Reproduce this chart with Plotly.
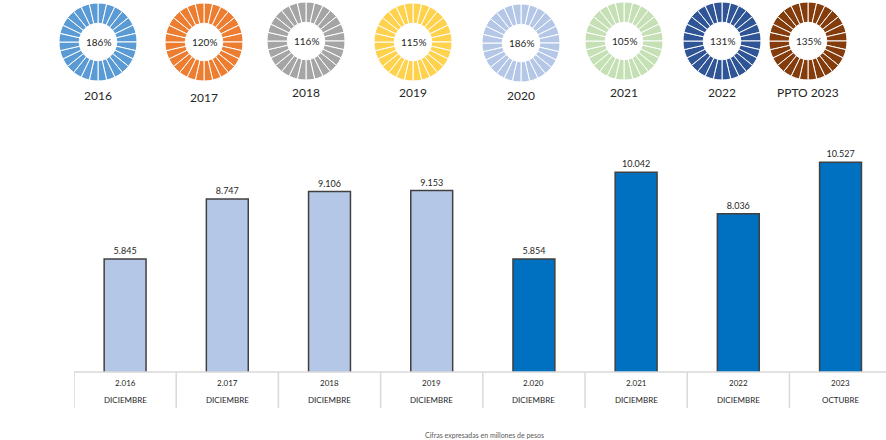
import plotly.graph_objects as go

# ---- data ----
donut_labels = ["2016", "2017", "2018", "2019", "2020", "2021", "2022", "PPTO 2023"]
donut_pct = ["186%", "120%", "116%", "115%", "186%", "105%", "131%", "135%"]
donut_colors = ["#5B9BD5", "#ED7D31", "#A5A5A5", "#FFD24D", "#B4C7E7", "#C5E0B4", "#2F5597", "#843C0C"]
ring_segments = [1] * 28  # decorative equal ring segments

bar_years = ["2.016", "2.017", "2018", "2019", "2.020", "2.021", "2022", "2023"]
bar_months = ["DICIEMBRE", "DICIEMBRE", "DICIEMBRE", "DICIEMBRE", "DICIEMBRE", "DICIEMBRE", "DICIEMBRE", "OCTUBRE"]
bar_values = [5845, 8747, 9106, 9153, 5854, 10042, 8036, 10527]
bar_colors = ["#B4C7E7"] * 4 + ["#0070C0"] * 4

W, H = 886, 440
FONT = "Lato, Carlito, 'Liberation Sans', sans-serif"

def px(x):
    return x / W

def py(y):
    return (H - y) / H

fig = go.Figure()

def note(x, y, text, size, color="#262626", xref="paper"):
    fig.add_annotation(x=x, y=y, xref=xref, yref="paper", text=text, showarrow=False,
                       xanchor="center", yanchor="middle",
                       font=dict(size=size, color=color, family=FONT))

# donuts
donut_cx = [98, 204, 306, 413, 521, 624, 722, 808]
donut_cy = [42, 42, 41, 42, 43, 41, 41, 41]
label_y = [96, 97, 92, 93, 96, 92, 92, 92]
R = 39
for i, lab in enumerate(donut_labels):
    cx, cy = donut_cx[i], donut_cy[i]
    fig.add_trace(go.Pie(
        values=ring_segments,
        hole=0.48,
        sort=False,
        direction="clockwise",
        marker=dict(colors=[donut_colors[i]] * len(ring_segments), line=dict(color="white", width=1)),
        textinfo="none",
        hoverinfo="skip",
        showlegend=False,
        domain=dict(x=[px(cx - R), px(cx + R)], y=[py(cy + R), min(1.0, py(cy - R))]),
    ))
    note(px(cx), py(cy), donut_pct[i], 10)
    note(px(cx), py(label_y[i]), lab, 12)

# bars
xs = list(range(len(bar_values)))
fig.add_trace(go.Bar(
    x=xs, y=bar_values,
    width=0.41,
    marker=dict(color=bar_colors, line=dict(color="#404040", width=1.5)),
    texttemplate="%{y:,.0f}",
    textposition="outside",
    textfont=dict(size=9, color="#262626", family=FONT),
    cliponaxis=False,
    hoverinfo="skip",
    showlegend=False,
))

# table lines and labels
grid = "#D9D9D9"
fig.add_shape(type="line", xref="x", yref="paper", x0=-0.5, x1=7.45, y0=py(372), y1=py(372),
              line=dict(color=grid, width=1.5))
for k in range(len(bar_values)):
    fig.add_shape(type="line", xref="x", yref="paper", x0=k - 0.5, x1=k - 0.5, y0=py(372), y1=py(408),
                  line=dict(color=grid, width=1.5))
    note(k, py(383), bar_years[k], 8, xref="x")
    note(k, py(400), bar_months[k], 8, xref="x")

note(px(484), py(435), "Cifras expresadas en millones de pesos", 7, color="#595959")

fig.update_layout(
    width=W, height=H,
    margin=dict(l=0, r=0, t=0, b=0),
    paper_bgcolor="white", plot_bgcolor="white",
    separators=",.",
    bargap=0.5,
    xaxis=dict(domain=[px(74), 1.0], range=[-0.5, 7.445], showticklabels=False, showgrid=False,
               zeroline=False, showline=False, ticks="", fixedrange=True),
    yaxis=dict(domain=[py(372), py(130)], range=[390, 12080], showticklabels=False, showgrid=False,
               zeroline=False, showline=False, ticks="", fixedrange=True),
)

fig.write_html("out.html", config={"displayModeBar": False},
               post_script="document.body.style.margin='0px';")
